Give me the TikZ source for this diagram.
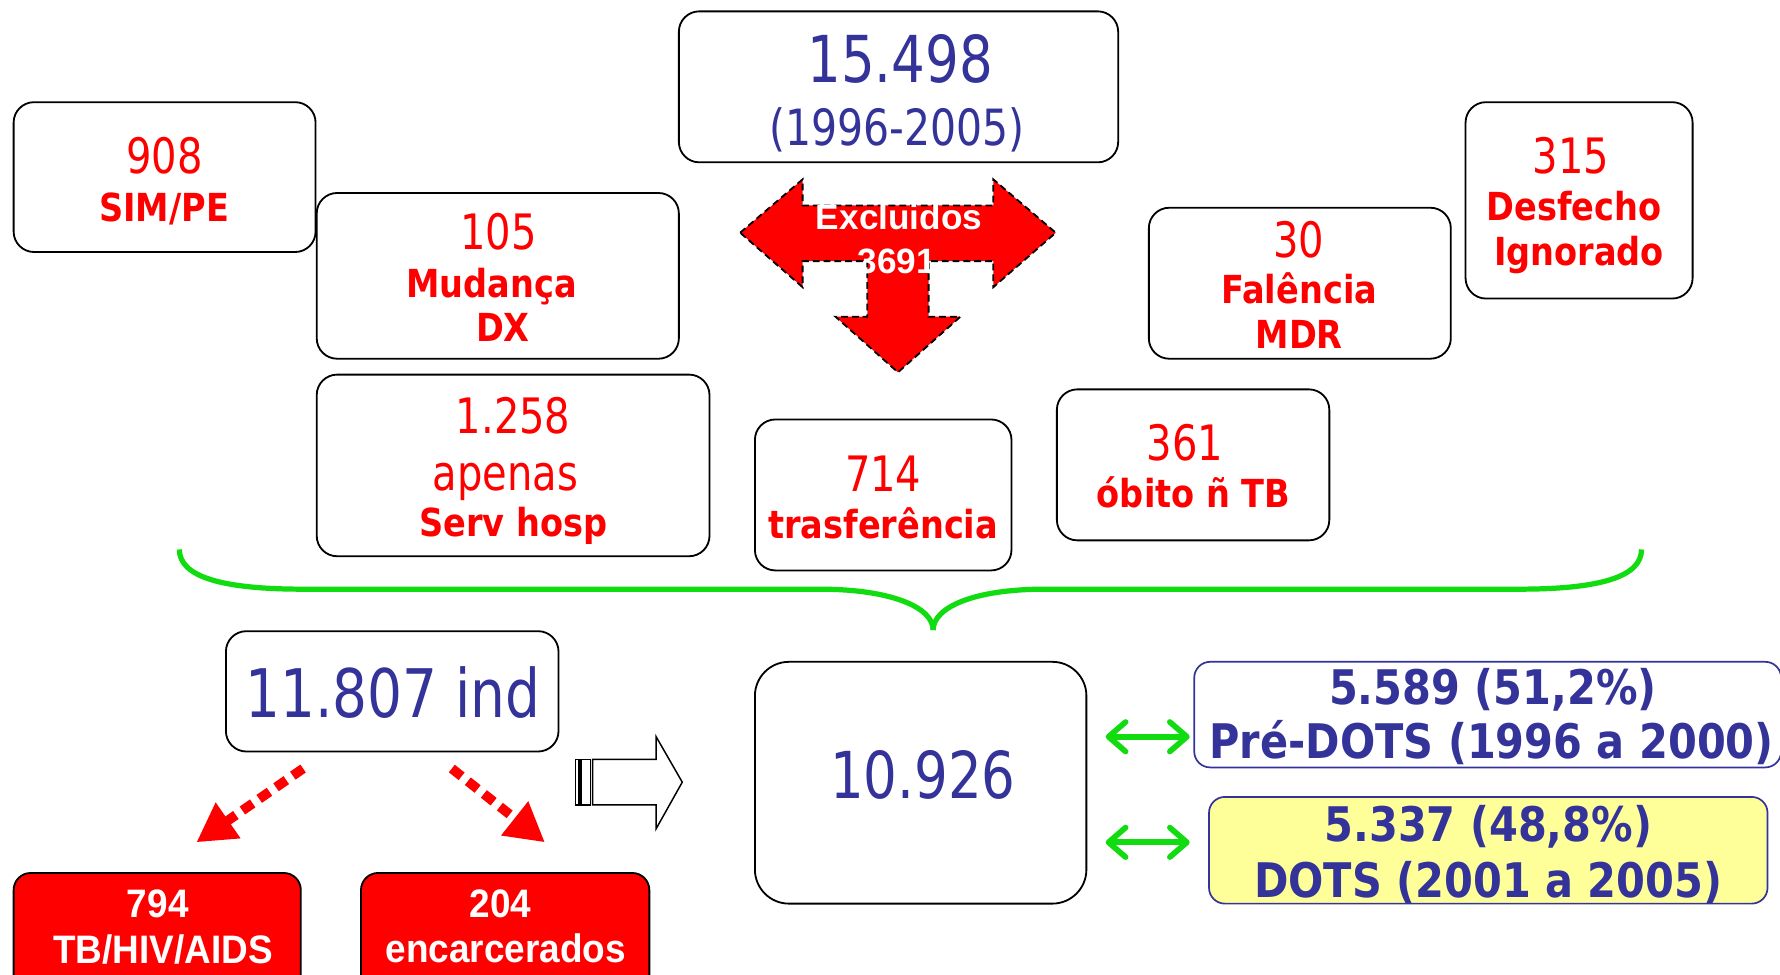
\documentclass[tikz,border=0pt]{standalone}
\usepackage{fontspec}
\newfontfamily\tahR[FakeStretch=0.82]{DejaVu Sans}
\newfontfamily\tahB[FakeStretch=0.87]{DejaVu Sans}
\newfontfamily\ariB[FakeStretch=0.93]{Liberation Sans}
\newfontfamily\ariX{Liberation Sans}
\usetikzlibrary{arrows.meta}
\definecolor{tblue}{RGB}{51,51,153}
\definecolor{tred}{RGB}{255,0,0}
\definecolor{tgreen}{RGB}{16,220,16}
\definecolor{tyellow}{RGB}{255,255,153}
\tikzset{
  box/.style={draw=black, line width=1.6pt, rounded corners=18pt, fill=white, inner sep=0pt},
  bluebox/.style={draw=tblue, line width=1.5pt, rounded corners=14pt, inner sep=0pt},
  redbox/.style={draw=black, fill=tred, line width=1.6pt, rounded corners=15pt, inner sep=0pt},
  txt/.style={anchor=base, inner sep=0pt, outer sep=0pt},
  reg/.style={txt, font={\tahR\fontsize{#1pt}{#1pt}\selectfont}},
  bld/.style={txt, font={\tahB\bfseries\fontsize{#1pt}{#1pt}\selectfont}},
  ari/.style={txt, font={\ariB\bfseries\fontsize{#1pt}{#1pt}\selectfont}},
  arx/.style={txt, font={\ariX\bfseries\fontsize{#1pt}{#1pt}\selectfont}},
  dotarrow/.style={draw=tred, line width=8.5pt, dash pattern=on 11pt off 7pt,
    -{Triangle[length=34pt,width=36pt]}},
  garrow/.style={draw=tgreen, line width=5pt, line cap=round,
    {Straight Barb[length=15pt,width=26pt,round]}-{Straight Barb[length=15pt,width=26pt,round]}},
  brace/.style={draw=tgreen, line width=4.6pt},
  hollow/.style={draw=black, line width=1.3pt, fill=white},
}
\begin{document}
\begin{tikzpicture}[x=1pt, y=-1pt]
\useasboundingbox (0,0) rectangle (1568,858);
\clip (0,0) rectangle (1568,858);
\fill[white] (0,0) rectangle (1568,858);

% ---- top boxes
\node[box, minimum width=387pt, minimum height=133pt] (b15498) at (791.5,76.5) {};
\node[reg=57, text=tblue] (t15498a) at (793,73) {15.498};
\node[reg=44, text=tblue] (t15498b) at (790.5,128) {(1996-2005)};

\node[box, minimum width=266pt, minimum height=132pt] (b908) at (145,156) {};
\node[reg=43, text=tred] (t908a) at (145,153) {908};
\node[bld=34, text=tred] (t908b) at (144.5,195.5) {SIM/PE};

\node[box, minimum width=319pt, minimum height=146pt] (b105) at (438.5,243) {};
\node[reg=43, text=tred] (t105a) at (439,220) {105};
\node[bld=34, text=tred] (t105b) at (433,262) {Mudança};
\node[bld=34, text=tred] (t105c) at (443,301) {DX};

\node[box, minimum width=346pt, minimum height=160pt] (b1258) at (452,410) {};
\node[reg=43, text=tred] (t1258a) at (452,382) {1.258};
\node[reg=43, text=tred] (t1258b) at (445,432) {apenas};
\node[bld=34, text=tred] (t1258c) at (452,473) {Serv hosp};

\node[box, minimum width=226pt, minimum height=133pt] (b714) at (778,436) {};
\node[reg=43, text=tred] (t714a) at (778,433) {714};
\node[bld=34, text=tred] (t714b) at (778,474) {trasferência};

\node[box, minimum width=240pt, minimum height=133pt] (b361) at (1051,409.5) {};
\node[reg=43, text=tred] (t361a) at (1044,406) {361};
\node[bld=34, text=tred] (t361b) at (1051.5,447) {óbito ñ TB};

\node[box, minimum width=266pt, minimum height=133pt] (b30) at (1145,249.5) {};
\node[reg=43, text=tred] (t30a) at (1144,227) {30};
\node[bld=34, text=tred] (t30b) at (1144.5,267) {Falência};
\node[bld=34, text=tred] (t30c) at (1144.5,307) {MDR};

\node[box, minimum width=200pt, minimum height=173pt] (b315) at (1391,176.5) {};
\node[reg=43, text=tred] (t315a) at (1384,153) {315};
\node[bld=34, text=tred] (t315b) at (1386.5,194) {Desfecho};
\node[bld=34, text=tred] (t315c) at (1391,233.5) {Ignorado};

% ---- Excluidos arrow
\draw[fill=tred, draw=black, line width=1.6pt, dash pattern=on 6pt off 3.5pt]
  (652,205) -- (707,158) -- (707,181) -- (875,181) -- (875,158) -- (930,205)
  -- (875,253) -- (875,230) -- (818,230) -- (818,279) -- (846,279) -- (791,328)
  -- (736,279) -- (764,279) -- (764,230) -- (707,230) -- (707,253) -- cycle;
\node[arx=31, text=white] (texa) at (792,202) {Excluidos};
\node[arx=31, text=white] (texb) at (790,241) {3691};

% ---- brace
\draw[brace] (158,484) .. controls (158,508) and (195,519) .. (267,519) -- (722,519)
  .. controls (785,519) and (822,535) .. (822,555);
\draw[brace] (822,555) .. controls (822,535) and (858,519) .. (920,519) -- (1338,519)
  .. controls (1410,519) and (1446,508) .. (1446,484);

% ---- bottom left
\node[box, minimum width=293pt, minimum height=106pt] (b11807) at (345.5,609) {};
\node[reg=59, text=tblue] (t11807) at (346,632) {11.807 ind};

\node[redbox, minimum width=253pt, minimum height=121pt] (b794) at (138.5,829.5) {};
\node[ari=35, text=white] (t794a) at (139,808.5) {794};
\node[ari=35, text=white] (t794b) at (143.5,849) {TB/HIV/AIDS};

\node[redbox, minimum width=254pt, minimum height=121pt] (b204) at (445,829.5) {};
\node[ari=35, text=white] (t204a) at (441,808.5) {204};
\node[ari=35, text=white] (t204b) at (445.5,848) {encarcerados};

\coordinate (la1) at (267,677);
\coordinate (la2) at (173,742);
\coordinate (ra1) at (398,677);
\coordinate (ra2) at (480,742);
\draw[dotarrow] (la1) -- (la2);
\draw[dotarrow] (ra1) -- (ra2);

% hollow striped arrow
\draw[hollow] (507,669) rectangle (510,709);
\draw[hollow] (512,669) rectangle (520,709);
\draw[hollow] (522,669) -- (578,669) -- (578,649) -- (601,689) -- (578,730)
  -- (578,709) -- (522,709) -- cycle;

% ---- 10.926
\node[box, rounded corners=30pt, minimum width=292pt, minimum height=213pt] (b10926) at (811,689.5) {};
\node[reg=57, text=tblue] (t10926) at (813,703) {10.926};

% ---- right boxes
\node[bluebox, fill=white, minimum width=517pt, minimum height=93pt] (bpre) at (1310.5,629.5) {};
\node[bld=42, text=tblue] (tprea) at (1315,621) {5.589 (51,2\%)};
\node[bld=42, text=tblue] (tpreb) at (1314,668) {Pré-DOTS (1996 a 2000)};

\node[bluebox, fill=tyellow, minimum width=492pt, minimum height=94pt] (bdots) at (1311,749) {};
\node[bld=42, text=tblue] (tdotsa) at (1311,741.5) {5.337 (48,8\%)};
\node[bld=42, text=tblue] (tdotsb) at (1311,790.5) {DOTS (2001 a 2005)};

\coordinate (g1a) at (974,649);
\coordinate (g1b) at (1048,649);
\coordinate (g2a) at (974,742);
\coordinate (g2b) at (1048,742);
\draw[garrow] (g1a) -- (g1b);
\draw[garrow] (g2a) -- (g2b);
\end{tikzpicture}
\end{document}
